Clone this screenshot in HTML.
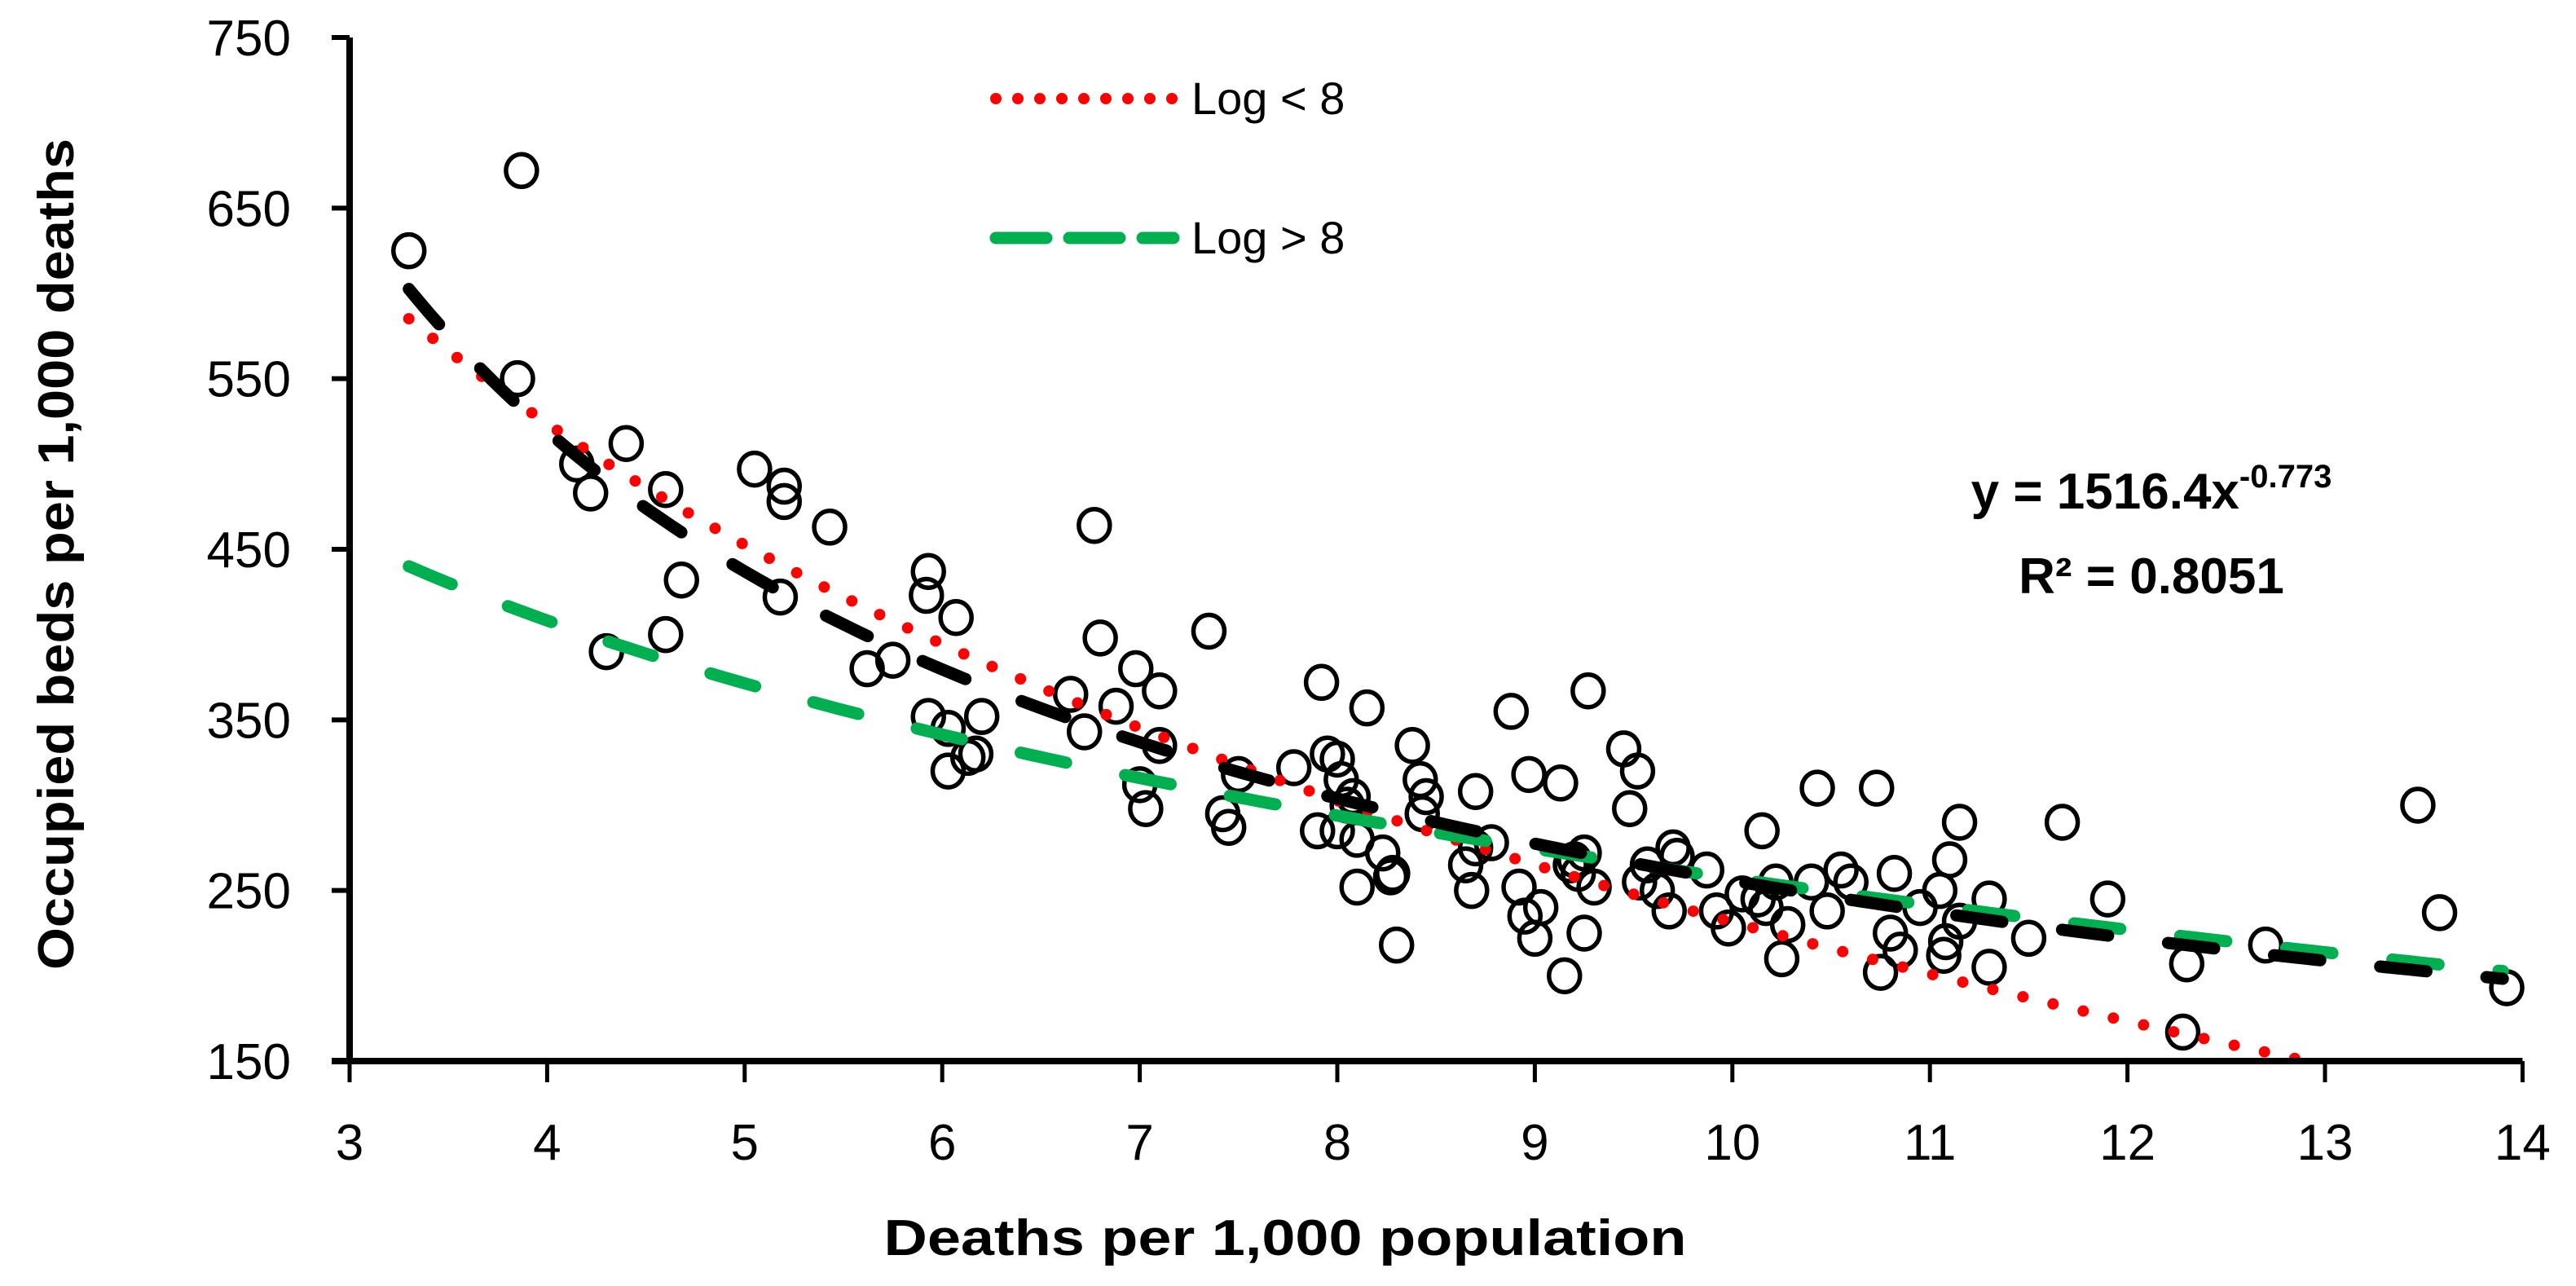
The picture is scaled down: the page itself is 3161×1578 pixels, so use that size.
<!DOCTYPE html>
<html><head><meta charset="utf-8"><style>
html,body{margin:0;padding:0;background:#fff}
svg{display:block}
text{font-family:"Liberation Sans",sans-serif}
</style></head><body>
<svg id="chart" width="3161" height="1578" viewBox="0 0 3161 1578" xmlns="http://www.w3.org/2000/svg">
<g id="points"></g>
<g id="trends"></g>
<g id="axes"></g>
<g>
  <line x1="1222" y1="121" x2="1440" y2="121" stroke="#ff0000" stroke-width="14" stroke-linecap="round" stroke-dasharray="0 27"/>
  <text x="1462" y="140" font-size="56">Log &lt; 8</text>
  <line x1="1222" y1="292" x2="1440" y2="292" stroke="#00b050" stroke-width="15" stroke-linecap="round" stroke-dasharray="62 28"/>
  <text x="1462" y="311" font-size="56">Log &gt; 8</text>
</g>
<g>
  <text x="2640" y="624" font-size="62" font-weight="bold" text-anchor="middle">y = 1516.4x<tspan font-size="40" dy="-26">-0.773</tspan></text>
  <text x="2640" y="728" font-size="62" font-weight="bold" text-anchor="middle">R² = 0.8051</text>
</g>
<text transform="translate(90,680) rotate(-90)" font-size="62" font-weight="bold" text-anchor="middle" textLength="1020" lengthAdjust="spacingAndGlyphs">Occupied beds per 1,000 deaths</text>
<text x="1577" y="1540" font-size="62" font-weight="bold" text-anchor="middle" textLength="985" lengthAdjust="spacingAndGlyphs">Deaths per 1,000 population</text>
</svg>
<script>
const xTicks=[3,4,5,6,7,8,9,10,11,12,13,14];
const yTicks=[150,250,350,450,550,650,750];
const ptX=[3.3,3.87,3.85,4.15,4.22,4.4,4.3,4.6,4.6,4.68,5.05,5.2,5.2,5.18,5.43,5.62,5.75,5.93,5.92,5.93,6.03,6.03,6.07,6.13,6.17,6.2,6.65,6.72,6.77,6.8,6.88,6.98,7.0,7.03,7.1,7.1,7.35,7.42,7.45,7.5,7.78,7.92,7.95,7.9,8.0,8.02,8.05,8.0,8.08,8.1,8.1,8.15,8.23,8.28,8.27,8.3,8.38,8.42,8.45,8.43,8.65,8.68,8.7,8.7,8.78,8.88,8.92,8.97,8.95,9.0,9.03,9.13,9.15,9.18,9.2,9.22,9.25,9.27,9.25,9.3,9.45,9.48,9.52,9.53,9.57,9.62,9.68,9.7,9.72,9.87,9.92,9.98,10.05,10.13,10.15,10.17,10.22,10.25,10.28,10.4,10.43,10.48,10.55,10.6,10.73,10.75,10.8,10.82,10.85,10.95,11.05,11.07,11.08,11.1,11.15,11.15,11.3,11.3,11.5,11.67,11.9,12.28,12.3,12.7,13.47,13.58,13.92];
const ptY=[625,672,550,500,483,512,390,485,400,432,497,487,478,422,463,380,385,437,423,352,345,320,410,328,330,352,365,343,464,398,358,380,312,298,367,335,402,295,287,318,322,372,330,285,327,315,300,285,305,280,252,357,272,260,258,218,335,315,305,295,265,250,308,275,278,355,252,318,235,222,240,313,200,265,268,260,272,367,225,252,333,298,320,255,265,250,238,275,270,262,238,228,248,245,285,240,255,210,230,255,310,238,262,255,310,202,225,260,215,240,250,212,220,268,290,232,245,205,222,290,245,167,207,218,300,237,193];
// trendline coefficients
const powerFit=[1516.4,-0.773];
const logLt8=[966,-319];
const logGt8=[637,-165];
const trendRange=[3.3,13.9];

const NS='http://www.w3.org/2000/svg';
const X0=429,XU=242.4,Y0=1302,YU=2.0933;
const sx=v=>X0+(v-3)*XU;
const sy=v=>Y0-(v-150)*YU;
function mk(tag,attrs,parent){const e=document.createElementNS(NS,tag);for(const k in attrs)e.setAttribute(k,attrs[k]);parent.appendChild(e);return e;}

const pg=document.getElementById('points');
for(let i=0;i<ptX.length;i++){
  const c=mk('ellipse',{cx:sx(ptX[i]),cy:sy(ptY[i]),rx:19,ry:20,fill:'none',stroke:'#000','stroke-width':5.5},pg);
  
  
}
const tg=document.getElementById('trends');
function curve(f,x1,x2){let d='';const n=200;for(let i=0;i<=n;i++){const x=x1+(x2-x1)*i/n;const y=f(x);if(y<150)break;d+=(d?'L':'M')+sx(x).toFixed(1)+','+sy(y).toFixed(1);}return d;}
const red=mk('path',{d:curve(x=>logLt8[0]+logLt8[1]*Math.log(x),trendRange[0],trendRange[1]),fill:'none',stroke:'#ff0000','stroke-width':14,'stroke-linecap':'round','stroke-dasharray':'0 38'},tg);


const green=mk('path',{d:curve(x=>logGt8[0]+logGt8[1]*Math.log(x),trendRange[0],trendRange[1]),fill:'none',stroke:'#00b050','stroke-width':15,'stroke-linecap':'round','stroke-dasharray':'57 74'},tg);


const black=mk('path',{d:curve(x=>powerFit[0]*Math.pow(x,powerFit[1]),trendRange[0],trendRange[1]),fill:'none',stroke:'#000','stroke-width':15,'stroke-linecap':'round','stroke-dasharray':'57 74'},tg);



const ag=document.getElementById('axes');
const ya=mk('line',{x1:X0,y1:sy(750),x2:X0,y2:Y0,stroke:'#000','stroke-width':8},ag);


const xa=mk('line',{x1:X0-22,y1:Y0,x2:sx(14),y2:Y0,stroke:'#000','stroke-width':8},ag);


yTicks.forEach(v=>{
  const t=mk('line',{x1:X0-22,y1:sy(v),x2:X0,y2:sy(v),stroke:'#000','stroke-width':6},ag);
  
  
  const l=mk('text',{x:357,y:sy(v)+22,'font-size':62,'text-anchor':'end'},ag);
  l.textContent=v;
  
  
});
xTicks.forEach(v=>{
  const t=mk('line',{x1:sx(v),y1:Y0,x2:sx(v),y2:Y0+26,stroke:'#000','stroke-width':5},ag);
  
  
  const l=mk('text',{x:sx(v),y:1423,'font-size':62,'text-anchor':'middle'},ag);
  l.textContent=v;
  
  
});
</script>
</body></html>
